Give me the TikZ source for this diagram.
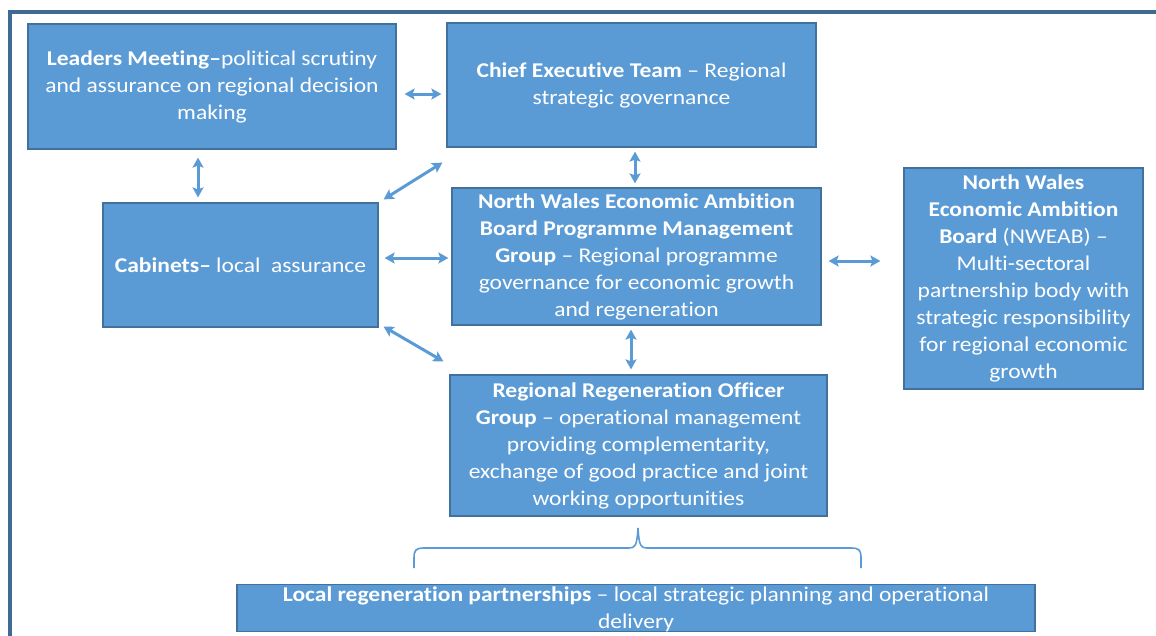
\documentclass[tikz,border=0pt]{standalone}
\usepackage{fontspec}
\setmainfont{Carlito}[FakeStretch=1.12,Ligatures=NoCommon]
\usetikzlibrary{arrows.meta}
\definecolor{boxfill}{HTML}{5B9BD5}
\definecolor{boxline}{HTML}{41719C}
\definecolor{framecol}{HTML}{3E6A94}
\begin{document}
\begin{tikzpicture}[x=1pt,y=-1pt,
  box/.style={draw=boxline, line width=1.2pt, fill=boxfill, text=white,
    align=center, inner sep=0pt, font=\fontsize{21}{27}\selectfont},
  dbl/.style={draw=boxfill, line width=3pt,
    {Stealth[length=10pt,width=11pt,inset=2pt]}-{Stealth[length=10pt,width=11pt,inset=2pt]}},
  bracestyle/.style={draw=boxfill, line width=1.6pt},
  framestyle/.style={draw=framecol, line width=3.2pt}
]
\useasboundingbox (0,0) rectangle (1156,635);
\draw[framestyle] (10,645) -- (10,12) -- (1165,12);

\node[box, minimum width=368pt, minimum height=125pt] (lead) at (212,86.5)
  {\textbf{Leaders Meeting–}political scrutiny\\and assurance on regional decision\\making};
\node[box, minimum width=369pt, minimum height=124pt] (chief) at (631.5,85)
  {\textbf{Chief Executive Team} – Regional\\strategic governance};
\node[box, minimum width=275pt, minimum height=124pt] (cab) at (240.5,265)
  {\textbf{Cabinets–} local\ \ assurance};
\node[box, minimum width=369pt, minimum height=137pt] (pmg) at (636.5,256.5)
  {\textbf{North Wales Economic Ambition}\\\textbf{Board Programme Management}\\\textbf{Group} – Regional programme\\governance for economic growth\\and regeneration};
\node[box, minimum width=239pt, minimum height=221pt] (nweab) at (1023.5,278.5)
  {\textbf{North Wales}\\\textbf{Economic Ambition}\\\textbf{Board} (NWEAB) –\\Multi-sectoral\\partnership body with\\strategic responsibility\\for regional economic\\growth};
\node[box, minimum width=377pt, minimum height=141pt] (regen) at (638.5,445.5)
  {\textbf{Regional Regeneration Officer}\\\textbf{Group} – operational management\\providing complementarity,\\exchange of good practice and joint\\working opportunities};
\node[box, anchor=north] (local) at (636,584)
  {\parbox[t][47pt][t]{798pt}{\centering\rule{0pt}{17pt}\textbf{Local regeneration partnerships} – local strategic planning and operational\\delivery}};

% connectors
\draw[dbl] ([shift={(8,7.5)}]lead.east) -- ([shift={(-5,9)}]chief.west);
\draw[dbl] ([shift={(-14,8)}]lead.south) -- ([shift={(-42.5,-5)}]cab.north);
\draw[dbl] ([shift={(-4,15)}]chief.south west) -- ([shift={(5,-3)}]cab.north east);
\draw[dbl] ([shift={(6,-7)}]cab.east) -- ([shift={(-3,1.5)}]pmg.west);
\draw[dbl] ([shift={(3.5,4)}]chief.south) -- ([shift={(-1.5,-4)}]pmg.north);
\draw[dbl] ([shift={(5,-1)}]cab.south east) -- ([shift={(-6,-13)}]regen.north west);
\draw[dbl] ([shift={(-5.5,4)}]pmg.south) -- ([shift={(-7.5,-5)}]regen.north);
\draw[dbl] ([shift={(7,4.5)}]pmg.east) -- ([shift={(-23,-17.5)}]nweab.west);

% brace
\draw[bracestyle] (414,568) -- (414,558) .. controls (414,550) and (416,548) .. (424,548)
  -- (629,548) .. controls (635,548) and (637,546) .. (638,528)
  .. controls (639,546) and (641,548) .. (647,548)
  -- (851,548) .. controls (859,548) and (861,550) .. (861,558) -- (861,568);
\end{tikzpicture}
\end{document}
